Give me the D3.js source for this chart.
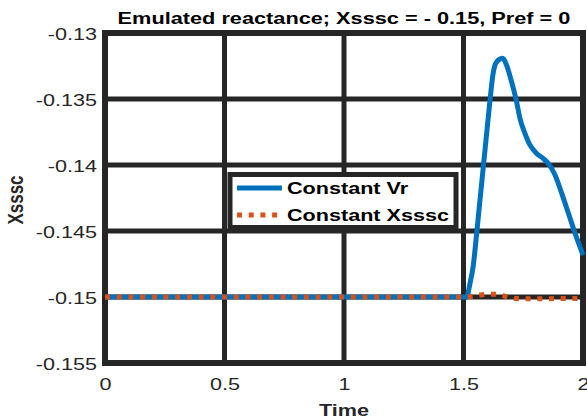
<!DOCTYPE html>
<html><head><meta charset="utf-8">
<script src="https://cdn.jsdelivr.net/npm/d3@7"></script>
<style>body{margin:0;background:#fff}svg{display:block}text{font-family:"Liberation Sans",Arial,sans-serif}</style>
</head><body><svg id="c" width="587" height="420"></svg>
<script>
const xTicks = [0, 0.5, 1, 1.5, 2];
const xTickLabels = ["0", "0.5", "1", "1.5", "2"];
const yTicks = [-0.155, -0.15, -0.145, -0.14, -0.135, -0.13];
const yTickLabels = ["-0.155", "-0.15", "-0.145", "-0.14", "-0.135", "-0.13"];
const seriesNames = ["Constant Vr", "Constant Xsssc"];
const timeVr = [0, 1.5, 1.513, 1.527, 1.541, 1.555, 1.569, 1.59, 1.611, 1.624, 1.638, 1.664, 1.68, 1.701, 1.722, 1.736, 1.757, 1.778, 1.806, 1.833, 1.854, 1.883, 1.911, 1.939, 1.967, 2.0];
const valueVr = [-0.15, -0.15, -0.15, -0.14899, -0.1476, -0.1452, -0.14265, -0.13886, -0.13508, -0.13305, -0.1322, -0.13192, -0.13242, -0.13369, -0.1352, -0.13646, -0.1376, -0.13848, -0.13912, -0.1395, -0.13987, -0.14075, -0.14215, -0.14366, -0.14518, -0.14682];
const timeXs = [0, 1.5, 1.52, 1.56, 1.593, 1.638, 1.665, 1.686, 1.736, 1.8, 1.9, 2.0];
const valueXs = [-0.15, -0.15, -0.14998, -0.14988, -0.1498, -0.1498, -0.1499, -0.15, -0.15013, -0.15013, -0.15012, -0.15012];

const SX = 1.27;
const svg = d3.select("#c");
const L = 105, R = 583, T = 33, B = 363;
const x = d3.scaleLinear().domain([0, 2]).range([L, R]);
const y = d3.scaleLinear().domain([-0.155, -0.13]).range([B, T]);
const dark = "#262626";

// grid
const g = svg.append("g");
g.selectAll("line.v").data(xTicks).join("line")
  .attr("x1", d => x(d)).attr("x2", d => x(d)).attr("y1", T).attr("y2", B)
  .attr("stroke", dark).attr("stroke-width", 5);
g.selectAll("line.h").data(yTicks).join("line")
  .attr("y1", d => y(d)).attr("y2", d => y(d)).attr("x1", L).attr("x2", R)
  .attr("stroke", dark).attr("stroke-width", 5);
svg.append("rect").attr("x", L).attr("y", T).attr("width", R - L).attr("height", B - T)
  .attr("fill", "none").attr("stroke", dark).attr("stroke-width", 6);

function stext(sel, tx, ty, s, anchor, rot) {
  sel.attr("text-anchor", anchor)
     .attr("transform", `translate(${tx},${ty}) scale(${s},1)` + (rot ? ` rotate(${rot})` : ""));
  return sel;
}

const ax = svg.append("g").attr("transform", `translate(0,${B})`)
  .call(d3.axisBottom(x).tickValues(xTicks).tickFormat((d, i) => xTickLabels[i]).tickSize(0).tickPadding(0));
ax.select(".domain").remove();
ax.selectAll("text").each(function(d) {
  const t = d3.select(this);
  t.attr("y", null).attr("dy", null).attr("x", null);
  stext(t, 0, 27, SX, "middle").attr("font-size", 17).attr("fill", dark).attr("font-family", '"Liberation Sans",Arial,sans-serif');
});
const ay = svg.append("g").attr("transform", `translate(${L},0)`)
  .call(d3.axisLeft(y).tickValues(yTicks).tickFormat((d, i) => yTickLabels[i]).tickSize(0).tickPadding(0));
ay.select(".domain").remove();
ay.selectAll("text").each(function(d) {
  const t = d3.select(this);
  t.attr("x", null).attr("dy", null).attr("y", null);
  stext(t, -8, 6, SX, "end").attr("font-size", 17).attr("fill", dark).attr("font-family", '"Liberation Sans",Arial,sans-serif');
});

// lines
const line = d3.line().x(d => x(d[0])).y(d => y(d[1])).curve(d3.curveMonotoneX);
const dVr = timeVr.map((t, i) => [t, valueVr[i]]);
const dXs = timeXs.map((t, i) => [t, valueXs[i]]);
svg.append("path").attr("d", line(dVr)).attr("fill", "none").attr("stroke", "#0072BD")
  .attr("stroke-width", 5).attr("stroke-linejoin", "round");
svg.append("path").attr("d", line(dXs)).attr("fill", "none").attr("stroke", "#D95319")
  .attr("stroke-width", 5).attr("stroke-dasharray", "5,6.7");

// title and labels
const title = svg.append("text").text("Emulated reactance; Xsssc = - 0.15, Pref = 0")
  .attr("font-size", 17).attr("font-weight", "bold").attr("fill", "#000");
const tw = title.node().getComputedTextLength();
stext(title, (L + R) / 2, 24, 453 / tw, "middle");
stext(svg.append("text").text("Time").attr("font-size", 17).attr("font-weight", "bold").attr("fill", dark),
  (L + R) / 2, 416, SX, "middle");
stext(svg.append("text").text("Xsssc").attr("font-size", 17).attr("font-weight", "bold").attr("fill", dark),
  23, 200, SX, "middle", -90);

// legend
const lg = svg.append("g");
lg.append("rect").attr("x", 230).attr("y", 174.5).attr("width", 226).attr("height", 53)
  .attr("fill", "#fff").attr("stroke", dark).attr("stroke-width", 5);
const rows = [188, 215];
const colors = ["#0072BD", "#D95319"];
seriesNames.forEach((n, i) => {
  lg.append("line").attr("x1", 237).attr("x2", 282).attr("y1", rows[i]).attr("y2", rows[i])
    .attr("stroke", colors[i]).attr("stroke-width", 5)
    .attr("stroke-dasharray", i === 1 ? "5,6.7" : null);
  stext(lg.append("text").text(n).attr("font-size", 17).attr("font-weight", "bold").attr("fill", "#000"),
    287, rows[i] + 6, SX, "start");
});
</script></body></html>
